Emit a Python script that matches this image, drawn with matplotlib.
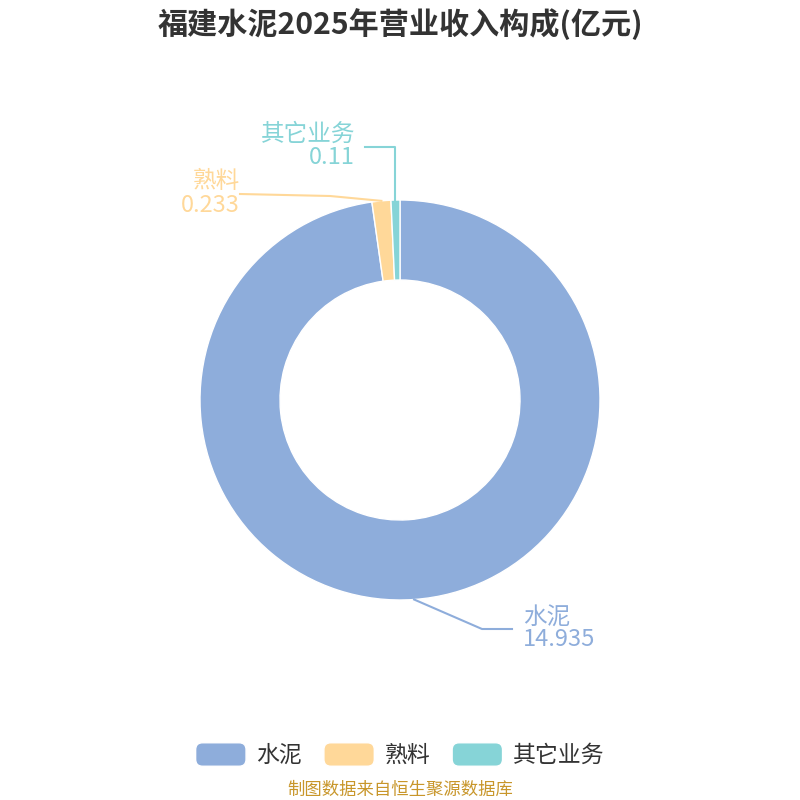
import matplotlib.pyplot as plt
import numpy as np
from matplotlib.patches import FancyBboxPatch
from matplotlib.legend_handler import HandlerPatch

plt.rcParams['font.family'] = ['Noto Sans CJK SC', 'DejaVu Sans']

title = '福建水泥2025年营业收入构成(亿元)'
names = ['水泥', '熟料', '其它业务']
values = [14.935, 0.233, 0.11]
value_text = ['14.935', '0.233', '0.11']
colors = ['#8eaddb', '#ffd899', '#86d4d7']
source = '制图数据来自恒生聚源数据库'


def rounded_box(legend, orig_handle, xdescent, ydescent, width, height, fontsize):
    return FancyBboxPatch((-xdescent, -ydescent), width, height,
                          boxstyle='round,pad=0,rounding_size=5')


fig = plt.figure(figsize=(8, 8), dpi=100)
ax = fig.add_axes([0, 0, 1, 1])

H = 800  # pixel rows, used to turn top-down positions into data y
cx, cy, R = 400, H - 400, 200
wedges, _ = ax.pie(values, colors=colors, startangle=90, counterclock=False,
                   center=(cx, cy), radius=R, frame=True,
                   wedgeprops=dict(width=80, edgecolor='white', linewidth=1))
ax.set_xlim(0, 800)
ax.set_ylim(0, H)
ax.axis('off')

# leader lines and labels, positions given top-down in pixels
label_pos = {
    0: dict(bend=(482, 629), end=(512, 629), txt=(523, 628), ha='left'),
    1: dict(bend=(330, 196), end=(240, 194), txt=(240, 193), ha='right'),
    2: dict(bend=None, end=(365, 147), txt=(355, 145), ha='right'),
}
for i, w in enumerate(wedges):
    mid = np.deg2rad((w.theta1 + w.theta2) / 2)
    px = cx + R * np.cos(mid)
    py = cy + R * np.sin(mid)
    p = label_pos[i]
    ex, ey = p['end'][0], H - p['end'][1]
    if p['bend'] is None:
        bx, by = px, ey
    else:
        bx, by = p['bend'][0], H - p['bend'][1]
    ax.plot([px, bx, ex], [py, by, ey], color=colors[i], lw=1.5)
    tx, ty = p['txt'][0], H - p['txt'][1]
    ax.text(tx, ty + 11, names[i], color=colors[i], fontsize=17,
            ha=p['ha'], va='center')
    ax.text(tx, ty - 12, value_text[i], color=colors[i], fontsize=17,
            ha=p['ha'], va='center')

fig.text(0.5, 1 - 24 / 800, title, ha='center', va='center',
         fontsize=21.7, fontweight='bold', color='#333333')

leg = ax.legend(wedges, names, loc='center', bbox_to_anchor=(0.5, 1 - 755 / 800),
                ncol=3, frameon=False, fontsize=16.5, handlelength=2.2,
                handleheight=1.2, handletextpad=0.45, columnspacing=0.95,
                handler_map={w: HandlerPatch(patch_func=rounded_box) for w in wedges})
for t in leg.get_texts():
    t.set_color('#333333')

fig.text(0.5, 1 - 790 / 800, source, ha='center', va='center',
         fontsize=12.5, color='#c8962a')

fig.savefig('out.png', dpi=100)
